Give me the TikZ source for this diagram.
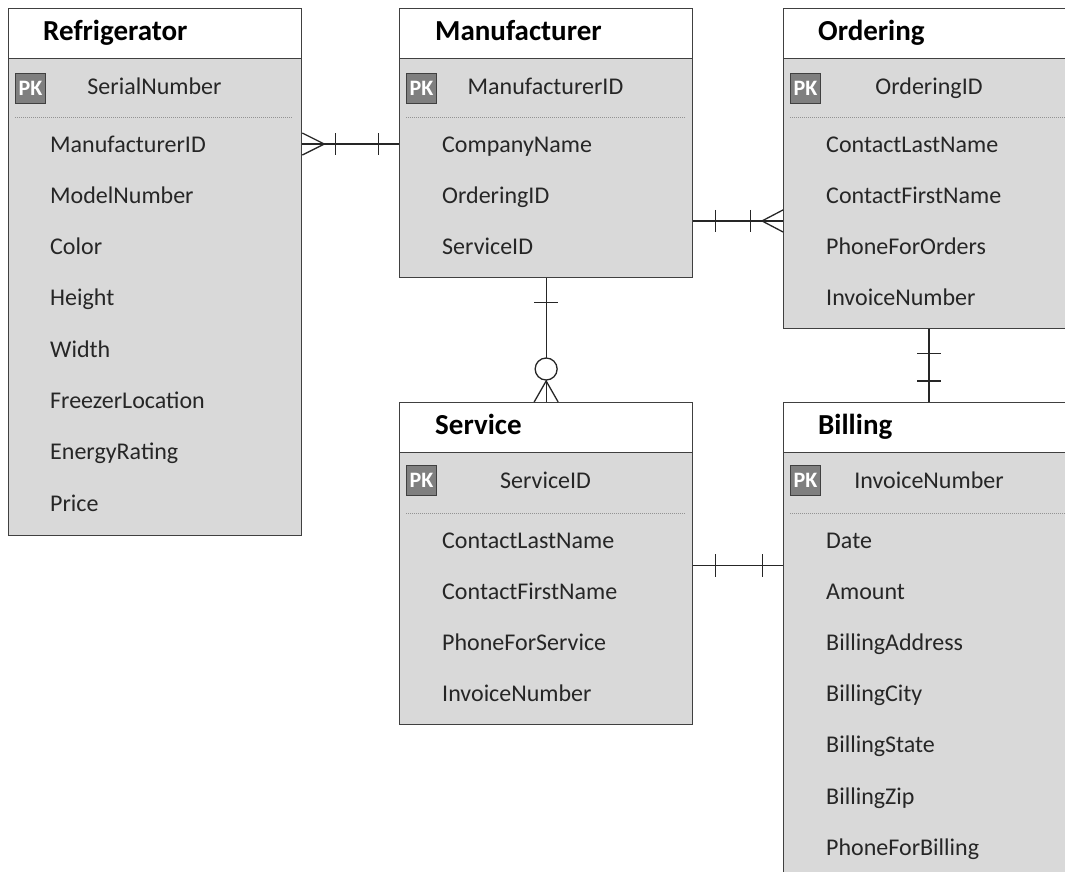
\documentclass[tikz,border=0pt]{standalone}
\usepackage{fontspec}
\setmainfont{Carlito}
\usetikzlibrary{calc}
\definecolor{bodyc}{HTML}{D9D9D9}
\definecolor{bordc}{HTML}{404040}
\definecolor{pkc}{HTML}{7F7F7F}
\definecolor{txtc}{HTML}{262626}
\definecolor{linec}{HTML}{262626}
\begin{document}
\begin{tikzpicture}[x=1pt,y=-1pt,
  hdrbox/.style={draw=bordc,fill=white,line width=1.3pt,inner sep=0pt,anchor=north west,minimum height=50pt},
  bodybox/.style={draw=bordc,fill=bodyc,line width=1.3pt,inner sep=0pt,anchor=north west},
  ttl/.style={anchor=west,inner sep=0pt,font=\fontsize{29}{29}\selectfont\bfseries,text=black,text height=19pt,text depth=0pt},
  attr/.style={anchor=west,inner sep=0pt,font=\fontsize{24}{24}\selectfont,text=txtc,text height=16pt,text depth=0pt},
  pkattr/.style={attr,anchor=center},
  pkbox/.style={draw=bordc,fill=pkc,line width=1pt,minimum size=30pt,inner sep=0pt,anchor=north west,font=\fontsize{22}{22}\selectfont\bfseries,text=white},
  sep/.style={draw=gray!85,line width=0.7pt,dash pattern=on 1pt off 1pt},
  conn/.style={draw=linec,line width=1.3pt},
]
\useasboundingbox (0,0) rectangle (1065,871);
\clip (0,0) rectangle (1065,871);

% ---------- Refrigerator ----------
\node[bodybox,minimum width=293pt,minimum height=477pt] (refB) at (8,58) {};
\node[hdrbox,minimum width=293pt] (refH) at (8,8) {};
\node[ttl] (refT) at (43,31) {Refrigerator};
\node[pkbox] (refPK) at (15,73) {PK};
\node[pkattr] (refK) at (154.5,86) {SerialNumber};
\draw[sep] (15,117) -- (292,117);
\foreach \t [count=\i] in {ManufacturerID,ModelNumber,Color,Height,Width,FreezerLocation,EnergyRating,Price}
  \node[attr] (ref\i) at (50,{144+(\i-1)*51.3}) {\t};

% ---------- Manufacturer ----------
\node[bodybox,minimum width=293pt,minimum height=219pt] (manB) at (399,58) {};
\node[hdrbox,minimum width=293pt] (manH) at (399,8) {};
\node[ttl] (manT) at (435,31) {Manufacturer};
\node[pkbox] (manPK) at (406,73) {PK};
\node[pkattr] (manK) at (545.5,86) {ManufacturerID};
\draw[sep] (406,117) -- (685,117);
\foreach \t [count=\i] in {CompanyName,OrderingID,ServiceID}
  \node[attr] (man\i) at (442,{144+(\i-1)*51.3}) {\t};

% ---------- Ordering ----------
\node[bodybox,minimum width=292pt,minimum height=270pt] (ordB) at (783,58) {};
\node[hdrbox,minimum width=292pt] (ordH) at (783,8) {};
\node[ttl] (ordT) at (818,31) {Ordering};
\node[pkbox] (ordPK) at (790,73) {PK};
\node[pkattr] (ordK) at (929,86) {OrderingID};
\draw[sep] (790,117) -- (1075,117);
\foreach \t [count=\i] in {ContactLastName,ContactFirstName,PhoneForOrders,InvoiceNumber}
  \node[attr] (ord\i) at (826,{144+(\i-1)*51.3}) {\t};

% ---------- Service ----------
\node[bodybox,minimum width=293pt,minimum height=272pt] (serB) at (399,452) {};
\node[hdrbox,minimum width=293pt] (serH) at (399,402) {};
\node[ttl] (serT) at (435,425) {Service};
\node[pkbox] (serPK) at (406,465) {PK};
\node[pkattr] (serK) at (545.5,480) {ServiceID};
\draw[sep] (406,513) -- (685,513);
\foreach \t [count=\i] in {ContactLastName,ContactFirstName,PhoneForService,InvoiceNumber}
  \node[attr] (ser\i) at (442,{540+(\i-1)*51.2}) {\t};

% ---------- Billing ----------
\node[bodybox,minimum width=292pt,minimum height=500pt] (bilB) at (783,452) {};
\node[hdrbox,minimum width=292pt] (bilH) at (783,402) {};
\node[ttl] (bilT) at (818,425) {Billing};
\node[pkbox] (bilPK) at (790,465) {PK};
\node[pkattr] (bilK) at (929,480) {InvoiceNumber};
\draw[sep] (790,513) -- (1075,513);
\foreach \t [count=\i] in {Date,Amount,BillingAddress,BillingCity,BillingState,BillingZip,PhoneForBilling}
  \node[attr] (bil\i) at (826,{540+(\i-1)*51.2}) {\t};

% ---------- Connectors ----------
% Refrigerator >--||-- Manufacturer
\coordinate (c1) at (refB.east |- ref1.west);
\draw[conn] (c1) -- (manB.west |- ref1.west);
\draw[conn] ($(c1)+(0,-11)$) -- ($(c1)+(22,0)$) -- ($(c1)+(0,11)$);
\foreach \d in {33,76} \draw[conn] ($(c1)+(\d,-11)$) -- ($(c1)+(\d,11)$);

% Manufacturer --||--< Ordering
\coordinate (m23) at ($(man2.west)!0.5!(man3.west)$);
\coordinate (c2) at (manB.east |- m23);
\coordinate (c2e) at (ordB.west |- m23);
\draw[conn] (c2) -- (c2e);
\foreach \d in {22,57} \draw[conn] ($(c2)+(\d,-11)$) -- ($(c2)+(\d,11)$);
\draw[conn] ($(c2e)+(0,-11)$) -- ($(c2e)+(-21,0)$) -- ($(c2e)+(0,11)$);

% Manufacturer --|--o< Service
\draw[conn] (manB.south) -- (serH.north);
\draw[conn] ($(manB.south)+(-12,24)$) -- ($(manB.south)+(12,24)$);
\draw[conn] ($(serH.north)+(-12,0)$) -- ($(serH.north)+(0,-21)$) -- ($(serH.north)+(12,0)$);
\draw[conn,fill=white] ($(serH.north)+(0,-33)$) circle[radius=11pt];

% Ordering --||-- Billing
\coordinate (c4) at (ordB.south -| ordK.center);
\coordinate (c4e) at (bilH.north -| ordK.center);
\draw[conn] (c4) -- (c4e);
\draw[conn] ($(c4)+(-12,24)$) -- ($(c4)+(12,24)$);
\draw[conn] ($(c4e)+(-12,-21)$) -- ($(c4e)+(12,-21)$);

% Service --||-- Billing
\coordinate (s12) at ($(ser1.west)!0.5!(ser2.west)$);
\coordinate (c5) at (serB.east |- s12);
\draw[conn] (c5) -- (bilB.west |- s12);
\foreach \d in {22,69} \draw[conn] ($(c5)+(\d,-11.5)$) -- ($(c5)+(\d,11.5)$);
\end{tikzpicture}
\end{document}
